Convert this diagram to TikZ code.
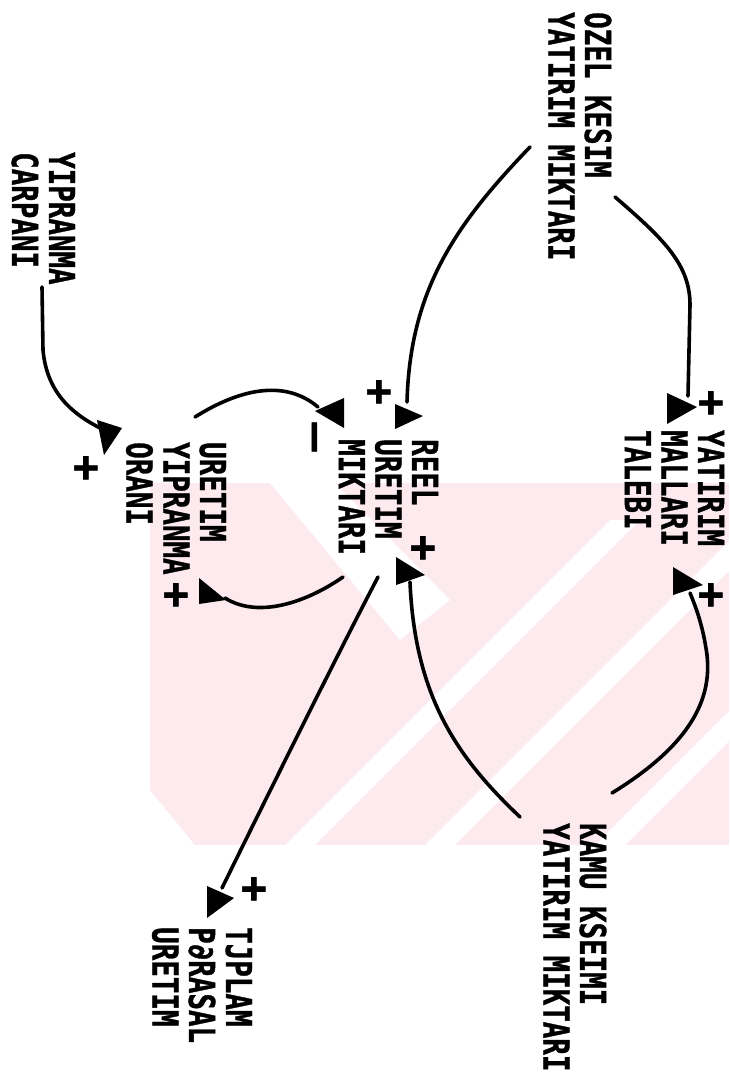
\documentclass[tikz,border=0pt]{standalone}
\usepackage{fontspec}
\newfontfamily\dotfont{DejaVu Sans Mono}[BoldFeatures={FakeBold=1.2}]
\newcommand\lblfont{\dotfont\bfseries\fontsize{35.7}{35}\selectfont}
\newcommand\stack[1]{\scalebox{0.77}[1]{\begin{tabular}[t]{@{}l@{}}#1\end{tabular}}}
\definecolor{wmpink}{RGB}{253,234,238}
\tikzset{
  lbl/.style={rotate=-90, anchor=base west, inner sep=0pt, font=\lblfont},
  sign/.style={rotate=-90, inner sep=0pt, font=\lblfont},
  link/.style={line width=3.6pt, line cap=round, line join=round},
}
\begin{document}
\begin{tikzpicture}[x=1pt,y=-1pt]
\useasboundingbox (0,0) rectangle (729,1082);
\fill[white] (0,0) rectangle (729,1082);

% background stamp
\begin{scope}
  \clip (150,483) -- (729,483) -- (729,845) -- (195,845) -- (150,790) -- cycle;
  \fill[wmpink] (150,483) rectangle (729,845);
  \fill[white] (270,483) -- (335,483) -- (450,600) -- (400,640) -- cycle;
  \fill[white] (285,845) -- (315,845) -- (640,520) -- (610,520) -- cycle;
  \fill[white] (425,845) -- (455,845) -- (729,571) -- (729,541) -- cycle;
  \fill[white] (595,845) -- (625,845) -- (729,741) -- (729,711) -- cycle;
\end{scope}

% variables
\node[lbl] (ozel) at (585,12) {\stack{OZEL KESIM\\YATIRIM MIKTARI}};
\node[lbl] (carp) at (49,152) {\stack{YIPRANMA\\CARPANI}};
\node[lbl] (talep) at (698,430) {\stack{YATIRIM\\MALLARI\\TALEBI}};
\node[lbl] (reel) at (412,439) {\stack{REEL\\URETIM\\MIKTARI}};
\node[lbl] (orani) at (200,442) {\stack{URETIM\\YIPRANMA\\ORANI}};
\node[lbl] (kamu) at (580,823) {\stack{KAMU KSEIMI\\YATIRIM MIKTARI}};
\node[lbl] (toplam) at (226,927) {\stack{TJPLAM\\P∂RASAL\\URETIM}};

% link polarities
\node[sign] (s1) at (378,392) {\scalebox{1.2}{+}};
\node[sign] (s2) at (710,403) {\scalebox{1.2}{+}};
\node[sign] (s3) at (85,468) {\scalebox{1.2}{+}};
\node[sign] (s4) at (175,595) {\scalebox{1.2}{+}};
\node[sign] (s5) at (422,548) {\scalebox{1.2}{+}};
\node[sign] (s6) at (710,595) {\scalebox{1.2}{+}};
\node[sign] (s7) at (253,889) {\scalebox{1.2}{+}};
\node[sign] (m1) at (309,437) {\scalebox{1.5}[1.2]{−}};

% link end points
\coordinate (a0) at (530,147); \coordinate (a1) at (407,402);
\coordinate (b0) at (615,197); \coordinate (b1) at (688,396);
\coordinate (c0) at (195,417); \coordinate (c1) at (318,407);
\coordinate (d0) at (42,287);  \coordinate (d1) at (100,428);
\coordinate (e0) at (343,577); \coordinate (e1) at (225,598);
\coordinate (f0) at (520,817); \coordinate (f1) at (410,582);
\coordinate (g0) at (612,793); \coordinate (g1) at (690,593);
\coordinate (h0) at (378,577); \coordinate (h1) at (222,888);

% links
\draw[link] (a0) .. controls (455,225) and (410,290) .. (a1);
\fill (a1) ++(-12,2) -- ++(0,25) -- ++(28,-13) -- cycle;

\draw[link] (b0) .. controls (665,240) and (690,265) .. (690,305) -- (b1);
\fill (b1) ++(-21,-3) -- ++(0,31) -- ++(30,-17) -- cycle;

\draw[link] (c0) .. controls (230,395) and (280,375) .. (c1);
\fill (c1) ++(26,-9) -- ++(0,30) -- ++(-29,-17) -- cycle;

\draw[link] (d0) -- (43,350) .. controls (47,395) and (75,415) .. (d1);
\fill (d1) ++(-3,-8) -- ++(25,8) -- ++(-18,27) -- cycle;

\draw[link] (e0) .. controls (310,600) and (260,620) .. (e1);
\fill (e1) ++(-26,-20) -- ++(0,26) -- ++(27,-4) -- cycle;

\draw[link] (f0) .. controls (460,760) and (415,700) .. (f1);
\fill (f1) ++(-14,-25) -- ++(0,28) -- ++(29,-10) -- cycle;

\draw[link] (g0) .. controls (690,745) and (712,700) .. (707,655) .. controls (703,625) and (695,605) .. (g1);
\fill (g1) ++(-17,-26) -- ++(0,28) -- ++(30,-10) -- cycle;

\draw[link] (h0) .. controls (345,640) and (285,760) .. (h1);
\fill (h1) ++(-15,-2) -- ++(0,32) -- ++(27,-20) -- cycle;
\end{tikzpicture}
\end{document}
